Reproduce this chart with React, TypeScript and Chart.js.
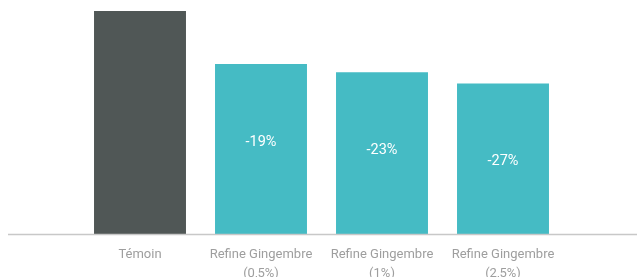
import React, { useEffect, useRef } from "react";
import { Chart, registerables } from "chart.js";

Chart.register(...registerables);

const categories: string[][] = [
  ["Témoin"],
  ["Refine Gingembre", "(0,5%)"],
  ["Refine Gingembre", "(1%)"],
  ["Refine Gingembre", "(2,5%)"],
];
const values: number[] = [100, 81, 78, 74];
const barLabels: string[] = ["", "-19%", "-23%", "-27%"];
const barColors: string[] = ["#505756", "#45BBC4", "#45BBC4", "#45BBC4"];

const overlayPlugin = {
  id: "overlay",
  afterDatasetsDraw(chart: any) {
    const ctx = chart.ctx;
    const meta = chart.getDatasetMeta(0);
    const yBottom = chart.chartArea.bottom;
    ctx.save();
    ctx.strokeStyle = "#c8c8c8";
    ctx.lineWidth = 1.5;
    ctx.beginPath();
    ctx.moveTo(8, yBottom + 0.5);
    ctx.lineTo(chart.width, yBottom + 0.5);
    ctx.stroke();
    ctx.fillStyle = "#ffffff";
    ctx.font = "14.5px Roboto";
    ctx.textAlign = "center";
    ctx.textBaseline = "middle";
    meta.data.forEach((bar: any, i: number) => {
      const t = barLabels[i];
      if (!t) return;
      ctx.fillText(t, bar.x, bar.y + 78);
    });
    ctx.restore();
  },
};

export default function App() {
  const ref = useRef<HTMLCanvasElement | null>(null);
  useEffect(() => {
    document.body.style.margin = "0";
    if (!ref.current) return;
    const chart = new Chart(ref.current, {
      type: "bar",
      data: {
        labels: categories,
        datasets: [
          {
            data: values,
            backgroundColor: barColors,
            borderWidth: 0,
            barPercentage: 0.76,
            categoryPercentage: 1,
          },
        ],
      },
      options: {
        animation: false,
        responsive: true,
        maintainAspectRatio: false,
        layout: { padding: { left: 79.5, right: 73.5, top: 11, bottom: 0 } },
        plugins: { legend: { display: false }, tooltip: { enabled: false } },
        scales: {
          y: { display: false, min: 20, max: 100 },
          x: {
            grid: { display: false },
            border: { display: false },
            afterFit(scale: any) {
              scale.height = 43;
            },
            ticks: {
              color: "#9e9e9e",
              font: { family: "Roboto", size: 13, lineHeight: 1.4 },
              padding: 4,
              maxRotation: 0,
              autoSkip: false,
            },
          },
        },
      },
      plugins: [overlayPlugin],
    });
    return () => chart.destroy();
  }, []);
  return (
    <div style={{ width: 637, height: 277, position: "relative" }}>
      <canvas ref={ref} />
    </div>
  );
}
